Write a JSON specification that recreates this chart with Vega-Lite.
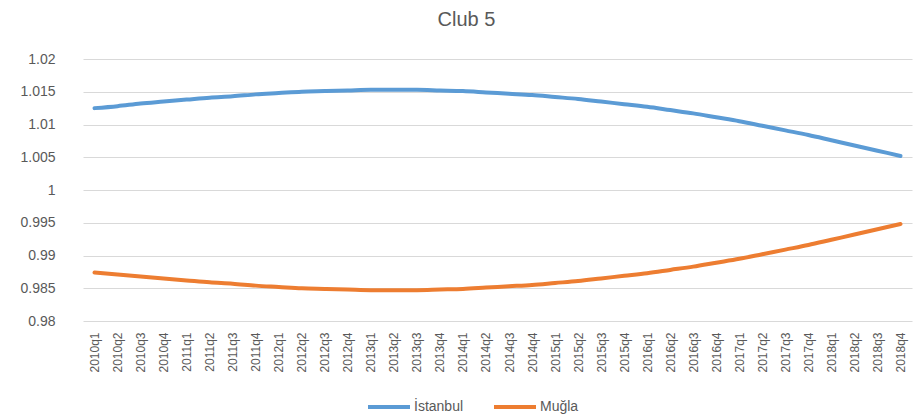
{
  "$schema": "https://vega.github.io/schema/vega-lite/v6.json",
  "width": 845,
  "height": 262,
  "autosize": {"type": "none"},
  "padding": {"left": 71, "top": 59, "right": 0, "bottom": 96},
  "background": "white",
  "title": {
    "text": "Club 5",
    "font": "Liberation Sans",
    "fontSize": 20,
    "fontWeight": "normal",
    "color": "#595959",
    "anchor": "middle",
    "dx": -27,
    "offset": 22
  },
  "config": {
    "view": {"stroke": null},
    "font": "Liberation Sans"
  },
  "data": {
    "values": [
      {"q": "2010q1", "series": "İstanbul", "v": 1.0125}, {"q": "2010q1", "series": "Muğla", "v": 0.9874},
      {"q": "2010q2", "series": "İstanbul", "v": 1.0128}, {"q": "2010q2", "series": "Muğla", "v": 0.9871},
      {"q": "2010q3", "series": "İstanbul", "v": 1.0132}, {"q": "2010q3", "series": "Muğla", "v": 0.9868},
      {"q": "2010q4", "series": "İstanbul", "v": 1.0135}, {"q": "2010q4", "series": "Muğla", "v": 0.9865},
      {"q": "2011q1", "series": "İstanbul", "v": 1.0138}, {"q": "2011q1", "series": "Muğla", "v": 0.9862},
      {"q": "2011q2", "series": "İstanbul", "v": 1.0141}, {"q": "2011q2", "series": "Muğla", "v": 0.9859},
      {"q": "2011q3", "series": "İstanbul", "v": 1.0143}, {"q": "2011q3", "series": "Muğla", "v": 0.9857},
      {"q": "2011q4", "series": "İstanbul", "v": 1.0146}, {"q": "2011q4", "series": "Muğla", "v": 0.9854},
      {"q": "2012q1", "series": "İstanbul", "v": 1.0148}, {"q": "2012q1", "series": "Muğla", "v": 0.9852},
      {"q": "2012q2", "series": "İstanbul", "v": 1.0150}, {"q": "2012q2", "series": "Muğla", "v": 0.9850},
      {"q": "2012q3", "series": "İstanbul", "v": 1.0151}, {"q": "2012q3", "series": "Muğla", "v": 0.9849},
      {"q": "2012q4", "series": "İstanbul", "v": 1.0152}, {"q": "2012q4", "series": "Muğla", "v": 0.9848},
      {"q": "2013q1", "series": "İstanbul", "v": 1.0153}, {"q": "2013q1", "series": "Muğla", "v": 0.9847},
      {"q": "2013q2", "series": "İstanbul", "v": 1.0153}, {"q": "2013q2", "series": "Muğla", "v": 0.9847},
      {"q": "2013q3", "series": "İstanbul", "v": 1.0153}, {"q": "2013q3", "series": "Muğla", "v": 0.9847},
      {"q": "2013q4", "series": "İstanbul", "v": 1.0152}, {"q": "2013q4", "series": "Muğla", "v": 0.9848},
      {"q": "2014q1", "series": "İstanbul", "v": 1.0151}, {"q": "2014q1", "series": "Muğla", "v": 0.9849},
      {"q": "2014q2", "series": "İstanbul", "v": 1.0149}, {"q": "2014q2", "series": "Muğla", "v": 0.9851},
      {"q": "2014q3", "series": "İstanbul", "v": 1.0147}, {"q": "2014q3", "series": "Muğla", "v": 0.9853},
      {"q": "2014q4", "series": "İstanbul", "v": 1.0145}, {"q": "2014q4", "series": "Muğla", "v": 0.9855},
      {"q": "2015q1", "series": "İstanbul", "v": 1.0142}, {"q": "2015q1", "series": "Muğla", "v": 0.9858},
      {"q": "2015q2", "series": "İstanbul", "v": 1.0139}, {"q": "2015q2", "series": "Muğla", "v": 0.9861},
      {"q": "2015q3", "series": "İstanbul", "v": 1.0135}, {"q": "2015q3", "series": "Muğla", "v": 0.9865},
      {"q": "2015q4", "series": "İstanbul", "v": 1.0131}, {"q": "2015q4", "series": "Muğla", "v": 0.9869},
      {"q": "2016q1", "series": "İstanbul", "v": 1.0127}, {"q": "2016q1", "series": "Muğla", "v": 0.9873},
      {"q": "2016q2", "series": "İstanbul", "v": 1.0122}, {"q": "2016q2", "series": "Muğla", "v": 0.9878},
      {"q": "2016q3", "series": "İstanbul", "v": 1.0117}, {"q": "2016q3", "series": "Muğla", "v": 0.9883},
      {"q": "2016q4", "series": "İstanbul", "v": 1.0111}, {"q": "2016q4", "series": "Muğla", "v": 0.9889},
      {"q": "2017q1", "series": "İstanbul", "v": 1.0105}, {"q": "2017q1", "series": "Muğla", "v": 0.9895},
      {"q": "2017q2", "series": "İstanbul", "v": 1.0098}, {"q": "2017q2", "series": "Muğla", "v": 0.9902},
      {"q": "2017q3", "series": "İstanbul", "v": 1.0091}, {"q": "2017q3", "series": "Muğla", "v": 0.9909},
      {"q": "2017q4", "series": "İstanbul", "v": 1.0084}, {"q": "2017q4", "series": "Muğla", "v": 0.9916},
      {"q": "2018q1", "series": "İstanbul", "v": 1.0076}, {"q": "2018q1", "series": "Muğla", "v": 0.9924},
      {"q": "2018q2", "series": "İstanbul", "v": 1.0068}, {"q": "2018q2", "series": "Muğla", "v": 0.9932},
      {"q": "2018q3", "series": "İstanbul", "v": 1.0060}, {"q": "2018q3", "series": "Muğla", "v": 0.9940},
      {"q": "2018q4", "series": "İstanbul", "v": 1.0052}, {"q": "2018q4", "series": "Muğla", "v": 0.9948}
    ]
  },
  "mark": {"type": "line", "strokeWidth": 4, "strokeCap": "round", "strokeJoin": "round", "interpolate": "monotone"},
  "encoding": {
    "x": {
      "field": "q",
      "type": "ordinal",
      "sort": null,
      "scale": {"type": "point", "range": [12, 841]},
      "axis": {
        "title": null,
        "domain": false,
        "ticks": false,
        "grid": false,
        "labelAngle": 270,
        "labelAlign": "right",
        "labelBaseline": "middle",
        "labelPadding": 11,
        "labelFontSize": 12,
        "labelColor": "#595959",
        "labelFont": "Liberation Sans"
      }
    },
    "y": {
      "field": "v",
      "type": "quantitative",
      "scale": {"domain": [0.98, 1.02], "zero": false, "nice": false},
      "axis": {
        "title": null,
        "domain": false,
        "ticks": false,
        "values": [0.98, 0.985, 0.99, 0.995, 1, 1.005, 1.01, 1.015, 1.02],
        "format": "~r",
        "labelPadding": 16,
        "labelFontSize": 14,
        "labelColor": "#595959",
        "labelFont": "Liberation Sans",
        "gridColor": "#d9d9d9",
        "gridWidth": 1
      }
    },
    "color": {
      "field": "series",
      "type": "nominal",
      "scale": {"domain": ["İstanbul", "Muğla"], "range": ["#5b9bd5", "#ed7d31"]},
      "legend": {
        "title": null,
        "orient": "none",
        "direction": "horizontal",
        "legendX": 295,
        "legendY": 325,
        "symbolType": "stroke",
        "symbolSize": 1764,
        "symbolStrokeWidth": 4,
        "labelFontSize": 14,
        "labelColor": "#595959",
        "labelFont": "Liberation Sans",
        "labelOffset": 2,
        "columnPadding": 22
      }
    }
  }
}
